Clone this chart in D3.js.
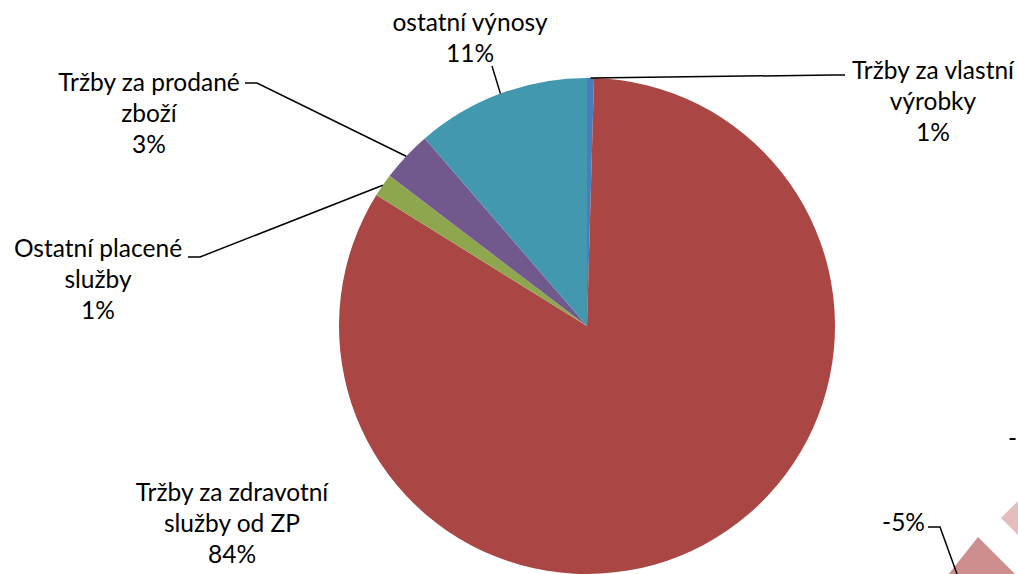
<!DOCTYPE html>
<html>
<head>
<meta charset="utf-8">
<script src="https://cdn.jsdelivr.net/npm/d3@7"></script>
<style>
  html, body { margin: 0; padding: 0; background: #fff; }
  svg { display: block; }
  text { font-family: Lato, "Open Sans", sans-serif; font-size: 24.5px; fill: #000; }
</style>
</head>
<body>
<script>
// slice data, clockwise from 12 o'clock
const categories = [
  ["Tržby za vlastní", "výrobky"],
  ["Tržby za zdravotní", "služby od ZP"],
  ["Ostatní placené", "služby"],
  ["Tržby za prodané", "zboží"],
  ["ostatní výnosy"]
]
const shares = [0.45, 83.4, 1.5, 3.3, 11.35]
const pctLabels = ["1%", "84%", "1%", "3%", "11%"]
const colors = ["#4a7ebb", "#aa4644", "#8ea74f", "#71598e", "#4298af"]

// where each label block sits and how its leader bends (null = no leader)
const labelLayout = [
  { x: 933, y: 79,  elbow: [[845, 75], [833, 75]] },
  { x: 232, y: 501, elbow: null },
  { x: 98,  y: 257, elbow: [[188, 257], [200, 257]] },
  { x: 149, y: 91,  elbow: [[245, 83], [257, 83]] },
  { x: 470, y: 31,  elbow: [[492, 66]] }
]

const W = 1018, H = 574
const cx = 587, cy = 326, R = 248
const lineH = 31

const svg = d3.select("body").append("svg")
  .attr("width", W).attr("height", H)

// piece of a neighbouring chart that overlaps the bottom right corner
const frag = svg.append("g").attr("class", "fragment")
const fragLine = d3.line()
frag.append("path")
  .attr("d", fragLine([[1001, 518], [1020, 499], [1020, 537]]) + "Z")
  .attr("fill", "#e5bdbd")
frag.append("path")
  .attr("d", fragLine([[978, 537], [1016, 575], [948, 575]]) + "Z")
  .attr("fill", "#cf8e8e")
frag.append("path")
  .attr("d", fragLine([[928, 527], [940, 527], [957, 574]]))
  .attr("fill", "none").attr("stroke", "#000").attr("stroke-width", 1.5)
frag.append("text").attr("x", 925).attr("y", 531).attr("text-anchor", "end").text("-5%")
frag.append("text").attr("x", 1008).attr("y", 447).text("-")

const pie = d3.pie().sort(null).value(d => d)
const arcs = pie(shares)
const arc = d3.arc().innerRadius(0).outerRadius(R)

const g = svg.append("g").attr("transform", `translate(${cx},${cy})`)

g.selectAll("path.slice")
  .data(arcs)
  .join("path")
  .attr("class", "slice")
  .attr("d", arc)
  .attr("fill", (d, i) => colors[i])

// leader lines: label side -> midpoint of the slice's outer edge
const edge = d => {
  const a = (d.startAngle + d.endAngle) / 2
  return [cx + R * Math.sin(a), cy - R * Math.cos(a)]
}
const line = d3.line()
arcs.forEach((d, i) => {
  const L = labelLayout[i]
  if (!L.elbow) return
  svg.append("path")
    .attr("d", line(L.elbow.concat([edge(d)])))
    .attr("fill", "none")
    .attr("stroke", "#000")
    .attr("stroke-width", 1.5)
})

// labels
arcs.forEach((d, i) => {
  const L = labelLayout[i]
  const lines = categories[i].concat([pctLabels[i]])
  const t = svg.append("text")
    .attr("x", L.x).attr("y", L.y)
    .attr("text-anchor", "middle")
  lines.forEach((s, k) => {
    t.append("tspan").attr("x", L.x).attr("y", L.y + k * lineH).text(s)
  })
})
</script>
</body>
</html>
